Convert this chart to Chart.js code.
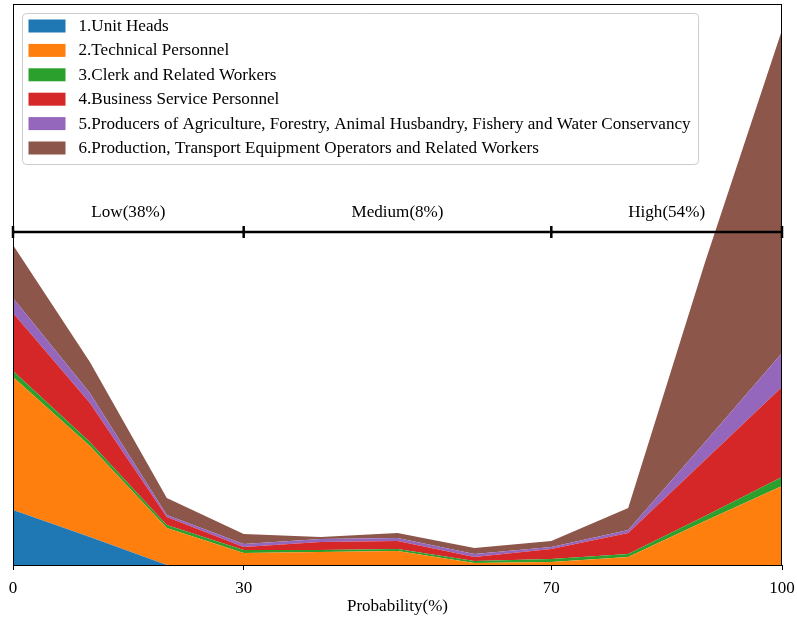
<!DOCTYPE html>
<html>
<head>
<meta charset="utf-8">
<script src="https://cdn.jsdelivr.net/npm/chart.js@4.4.0/dist/chart.umd.min.js"></script>
<style>
  html, body { margin: 0; padding: 0; background: #fff; }
  #wrap { width: 797px; height: 620px; }
</style>
</head>
<body>
<div id="wrap"><canvas id="chart" width="797" height="620"></canvas></div>
<script>
// Probability points and the stacked layers
const probability = [0, 10, 20, 30, 40, 50, 60, 70, 80, 90, 100];
const unitHeads   = [55, 28, 0, 0, 0, 0, 0, 0, 0, 0, 0];
const technical   = [133, 91, 37, 12, 13, 14, 2, 3, 8, 44, 79];
const clerk       = [6, 4, 3, 3, 2, 2, 2, 3, 3, 5, 9];
const business    = [58, 39, 8, 3, 8, 8, 4, 10, 21, 56, 90];
const producers   = [15, 10, 2, 3, 3, 3, 3, 2, 3, 18, 34];
const production  = [53, 31, 17, 10, 2, 5, 6, 6, 22, 180, 323];

const seriesNames = [
  "1.Unit Heads",
  "2.Technical Personnel",
  "3.Clerk and Related Workers",
  "4.Business Service Personnel",
  "5.Producers of Agriculture, Forestry, Animal Husbandry, Fishery and Water Conservancy",
  "6.Production, Transport Equipment Operators and Related Workers"
];
const seriesColors = ["#1f77b4", "#ff7f0e", "#2ca02c", "#d62728", "#9467bd", "#8c564b"];
const seriesValues = [unitHeads, technical, clerk, business, producers, production];

const xTicks = [0, 30, 70, 100];
const groupBounds = [0, 30, 70, 100];
const groupLabels = ["Low(38%)", "Medium(8%)", "High(54%)"];
const groupLevel = 333;
const yMax = 561;

const FONT = "Liberation Serif, 'Times New Roman', serif";
const TEXT_SIZE = 17.1;

const datasets = seriesValues.map((vals, i) => ({
  label: seriesNames[i],
  data: vals.map((v, j) => ({ x: probability[j], y: v })),
  backgroundColor: seriesColors[i],
  borderColor: seriesColors[i],
  borderWidth: 0,
  pointRadius: 0,
  tension: 0,
  fill: i === 0 ? "origin" : "-1"
}));

// frame + Low/Medium/High bar
const overlay = {
  id: "overlay",
  afterDatasetsDraw(chart) {
    const { ctx, chartArea: a, scales: { x, y } } = chart;
    ctx.save();
    ctx.strokeStyle = "#000";
    ctx.lineWidth = 1;
    ctx.strokeRect(a.left + 0.5, a.top + 0.5, a.right - a.left - 1, a.bottom - a.top);

    const gy = Math.round(y.getPixelForValue(groupLevel));
    ctx.lineWidth = 2.5;
    ctx.beginPath();
    ctx.moveTo(x.getPixelForValue(groupBounds[0]), gy);
    ctx.lineTo(x.getPixelForValue(groupBounds[groupBounds.length - 1]), gy);
    groupBounds.forEach(b => {
      const px = x.getPixelForValue(b);
      ctx.moveTo(px, gy - 6);
      ctx.lineTo(px, gy + 6);
    });
    ctx.stroke();

    ctx.fillStyle = "#000";
    ctx.font = TEXT_SIZE + "px " + FONT;
    ctx.textAlign = "center";
    ctx.textBaseline = "middle";
    groupLabels.forEach((t, i) => {
      const mid = (groupBounds[i] + groupBounds[i + 1]) / 2;
      ctx.fillText(t, x.getPixelForValue(mid), gy - 20);
    });
    ctx.restore();
  },
  afterDraw(chart) {
    // legend box inside the plot, upper left
    const { ctx, chartArea: a } = chart;
    ctx.save();
    ctx.font = TEXT_SIZE + "px " + FONT;
    const names = chart.data.datasets.map(d => d.label);
    const textW = Math.max(...names.map(n => ctx.measureText(n).width));
    const bx = a.left + 9.5, by = a.top + 9.5;
    const bw = 56 + textW + 8, bh = 151;
    ctx.fillStyle = "rgba(255,255,255,0.8)";
    ctx.strokeStyle = "#cccccc";
    ctx.lineWidth = 1;
    ctx.beginPath();
    ctx.roundRect(bx, by, bw, bh, 4);
    ctx.fill();
    ctx.stroke();
    ctx.textAlign = "left";
    ctx.textBaseline = "middle";
    names.forEach((n, i) => {
      const cy = by + 13 + i * 24.4;
      ctx.fillStyle = chart.data.datasets[i].backgroundColor;
      ctx.fillRect(bx + 6, cy - 7, 37, 13);
      ctx.fillStyle = "#000";
      ctx.fillText(n, bx + 56, cy);
    });
    ctx.restore();
  }
};

new Chart(document.getElementById("chart"), {
  type: "line",
  data: { datasets },
  options: {
    responsive: false,
    animation: false,
    layout: { padding: { left: 13, right: 15, top: 4, bottom: 0 } },
    plugins: { legend: { display: false }, tooltip: { enabled: false } },
    scales: {
      x: {
        type: "linear",
        min: 0,
        max: 100,
        afterBuildTicks: scale => { scale.ticks = xTicks.map(v => ({ value: v })); },
        afterFit: scale => {
          scale.height = 55;
          scale.paddingLeft = 0;
          scale.paddingRight = 0;
        },
        grid: { drawOnChartArea: false, drawTicks: true, tickLength: 5, color: "#000" },
        border: { display: false },
        ticks: { color: "#000", padding: 8, maxRotation: 0, font: { family: FONT, size: 17 } },
        title: { display: true, text: "Probability(%)", color: "#000", padding: { top: 0, bottom: 3 }, font: { family: FONT, size: 17 } }
      },
      y: {
        stacked: true,
        display: false,
        min: 0,
        max: yMax
      }
    }
  },
  plugins: [overlay]
});
</script>
</body>
</html>
